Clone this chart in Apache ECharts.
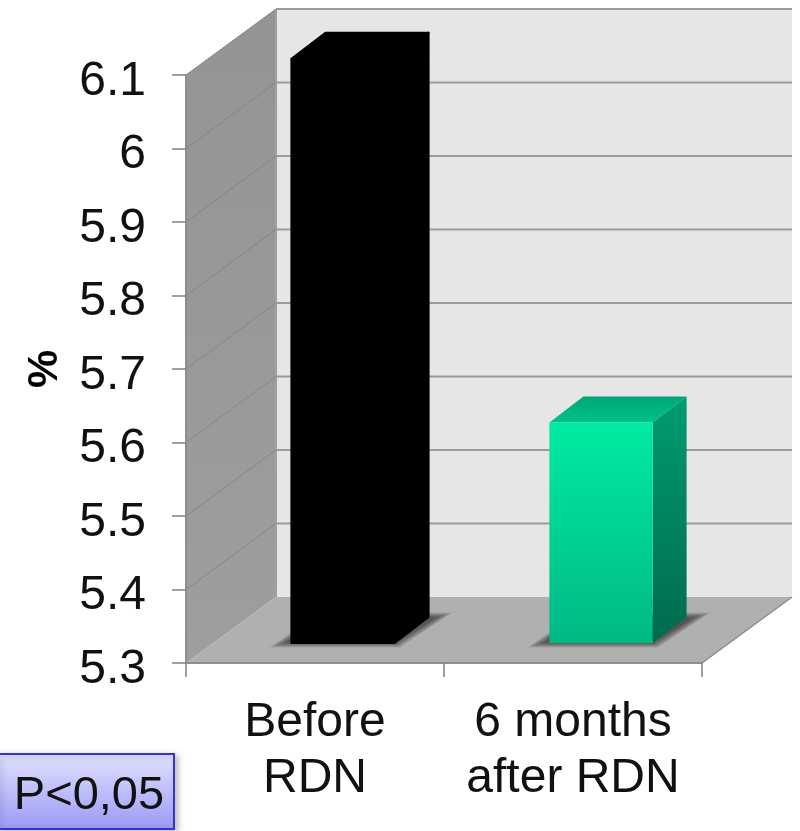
<!DOCTYPE html>
<html>
<head>
<meta charset="utf-8">
<style>html,body{margin:0;padding:0;background:#fff}#chart{width:800px;height:831px}</style>
<script src="https://cdn.jsdelivr.net/npm/echarts@6/dist/echarts.min.js"></script>
</head>
<body>
<div id="chart"></div>
<script>
// Pseudo-3D column chart of the percentage before and after RDN.
const categories = ['Before\nRDN', '6 months\nafter RDN'];
const values = [6.095, 5.6];
const yTicks = [5.3, 5.4, 5.5, 5.6, 5.7, 5.8, 5.9, 6.0, 6.1];
const yMin = 5.3, yMax = 6.1;

// Projection of the chart box: depth of the walls, and where the columns stand in it.
const WALL = [90, -66];
const BAR_OFFSET = [28, -20];
const BAR_DEPTH = [34, -26];
const BAR_RATIO = 0.4;
const SHADOW_SPREAD = [0, 1, 2, 3, 4, 5, 6, 7, 8, 9];
const FONT = '"Liberation Sans", Arial, sans-serif';

const vgrad = (a, b) => new echarts.graphic.LinearGradient(0, 0, 0, 1, [
  { offset: 0, color: a }, { offset: 1, color: b }
]);
const shift = (p, d) => [p[0] + d[0], p[1] + d[1]];

const barSkins = [
  { front: '#000', side: '#000', top: '#000', stroke: '#000' },
  {
    front: vgrad('#00eba2', '#00b985'),
    side: vgrad('#009c70', '#006b4e'),
    top: vgrad('#00a578', '#00c48c'),
    stroke: null
  }
];

function renderRoom(params, api) {
  const c = params.coordSys;
  const bl = [c.x, c.y + c.height], tl = [c.x, c.y], br = [c.x + c.width, c.y + c.height];
  const tr = [c.x + c.width, c.y];
  return {
    type: 'group',
    children: [
      { type: 'polygon', shape: { points: [shift(bl, WALL), shift(tl, WALL), shift(tr, WALL), shift(br, WALL)] },
        style: { fill: '#e6e6e6' } },
      { type: 'polygon', shape: { points: [bl, tl, shift(tl, WALL), shift(bl, WALL)] },
        style: { fill: vgrad('#949494', '#9e9e9e') } },
      { type: 'polygon', shape: { points: [bl, shift(bl, WALL), shift(br, WALL), br] },
        style: { fill: '#b0b0b0' } },
      { type: 'line', shape: { x1: tl[0] + WALL[0], y1: tl[1] + WALL[1], x2: bl[0] + WALL[0], y2: bl[1] + WALL[1] },
        style: { stroke: '#a0a0a0', lineWidth: 2 } },
      { type: 'line', shape: { x1: br[0], y1: br[1], x2: br[0] + WALL[0], y2: br[1] + WALL[1] },
        style: { stroke: '#8c8c8c', lineWidth: 1.5 } }
    ]
  };
}

function renderGrid(params, api) {
  const c = params.coordSys;
  const y = api.coord([0, api.value(1)])[1];
  const a = [c.x, y], b = shift(a, WALL), e = [c.x + c.width + WALL[0], y + WALL[1]];
  return {
    type: 'group',
    children: [
      { type: 'line', shape: { x1: a[0], y1: a[1], x2: b[0], y2: b[1] },
        style: { stroke: '#858585', lineWidth: 1 } },
      { type: 'line', shape: { x1: b[0], y1: b[1], x2: e[0], y2: e[1] },
        style: { stroke: '#9a9a9a', lineWidth: 2.2 } }
    ]
  };
}

function barCorners(api) {
  const i = api.value(0);
  const w = api.size([1, 0])[0] * BAR_RATIO;
  const base = shift(api.coord([i, yMin]), BAR_OFFSET);
  const top = shift(api.coord([i, api.value(1)]), BAR_OFFSET);
  return {
    i,
    bl: [base[0] - w / 2, base[1]], br: [base[0] + w / 2, base[1]],
    tl: [top[0] - w / 2, top[1]], tr: [top[0] + w / 2, top[1]]
  };
}

// Soft contact shadow: nested translucent footprints that fade out across the floor.
function renderShadow(params, api) {
  const q = barCorners(api);
  const back = shift(q.br, BAR_DEPTH), backLeft = shift(q.bl, BAR_DEPTH);
  return {
    type: 'group',
    children: SHADOW_SPREAD.map(k => ({
      type: 'polygon',
      shape: { points: [
        [q.bl[0] - 4 - k * 2, q.bl[1] - 1 + k * 0.6],
        [q.br[0] + k * 0.6, q.br[1] - 1 + k * 0.6],
        [back[0] + 6 + k * 2, back[1] + 1 - k * 0.6],
        [backLeft[0] - k * 0.6, backLeft[1] + 1 - k * 0.6]
      ] },
      style: { fill: 'rgba(50,50,50,0.11)' }
    }))
  };
}

function renderBar(params, api) {
  const q = barCorners(api);
  const s = barSkins[q.i];
  const line = s.stroke ? { stroke: s.stroke, lineWidth: 2, lineJoin: 'round' } : {};
  return {
    type: 'group',
    children: [
      { type: 'polygon', shape: { points: [q.tl, q.tr, shift(q.tr, BAR_DEPTH), shift(q.tl, BAR_DEPTH)] },
        style: Object.assign({ fill: s.top }, line) },
      { type: 'polygon', shape: { points: [q.br, q.tr, shift(q.tr, BAR_DEPTH), shift(q.br, BAR_DEPTH)] },
        style: Object.assign({ fill: s.side }, line) },
      { type: 'polygon', shape: { points: [q.bl, q.tl, q.tr, q.br] },
        style: Object.assign({ fill: s.front }, line) }
    ]
  };
}

const chart = echarts.init(document.getElementById('chart'), null, { renderer: 'canvas' });
const barData = values.map((v, i) => [i, v]);

chart.setOption({
  animation: false,
  backgroundColor: '#fff',
  grid: { left: 186, top: 75, width: 516, height: 588, containLabel: false, outerBoundsMode: 'none' },
  xAxis: {
    type: 'category',
    data: categories,
    z: 5,
    axisLine: { lineStyle: { color: '#8e8e8e', width: 2 } },
    axisTick: { show: true, alignWithLabel: false, length: 14, lineStyle: { color: '#808080', width: 1.5 } },
    axisLabel: { color: '#111', fontFamily: FONT, fontSize: 48, lineHeight: 56, margin: 32, interval: 0, hideOverlap: false }
  },
  yAxis: {
    type: 'value',
    min: yMin,
    max: yMax,
    interval: 0.1,
    z: 5,
    name: '%',
    nameLocation: 'middle',
    nameGap: 119,
    nameRotate: 90,
    nameTextStyle: { color: '#000', fontFamily: FONT, fontSize: 43, fontWeight: 'bold' },
    splitLine: { show: false },
    axisLine: { show: true, lineStyle: { color: '#8e8e8e', width: 2 } },
    axisTick: { show: true, length: 14, lineStyle: { color: '#808080', width: 1.5 } },
    axisLabel: {
      color: '#111', fontFamily: FONT, fontSize: 48, margin: 40,
      formatter: v => '{v|' + parseFloat(v.toFixed(1)) + '}',
      rich: { v: { fontFamily: FONT, fontSize: 48, color: '#111', padding: [13, 0, 0, 0] } }
    }
  },
  series: [
    { type: 'custom', name: 'room', data: [[0, yMin]], encode: { x: 0, y: 1 }, renderItem: renderRoom, z: 1, silent: true },
    { type: 'custom', name: 'grid', data: yTicks.slice(1).map(t => [0, t]), encode: { x: 0, y: 1 }, renderItem: renderGrid, z: 2, silent: true },
    { type: 'custom', name: 'shadow', data: barData, encode: { x: 0, y: 1 }, renderItem: renderShadow, z: 3, silent: true },
    { type: 'custom', name: 'percent', data: barData, encode: { x: 0, y: 1 }, renderItem: renderBar, z: 4 }
  ],
  graphic: [
    {
      type: 'rect',
      shape: { x: -3, y: 754, width: 177, height: 75 },
      style: {
        fill: vgrad('#e2e2ff', '#9a9af6'),
        stroke: '#3535cc',
        lineWidth: 2,
        shadowBlur: 6,
        shadowColor: 'rgba(0,0,0,0.25)',
        shadowOffsetX: 3,
        shadowOffsetY: 2
      },
      z: 10
    },
    {
      type: 'text',
      x: 89,
      y: 796,
      z: 11,
      style: {
        text: 'P<0,05',
        fill: '#111',
        font: '47px ' + FONT,
        textAlign: 'center',
        textVerticalAlign: 'middle'
      }
    }
  ]
});
</script>
</body>
</html>
